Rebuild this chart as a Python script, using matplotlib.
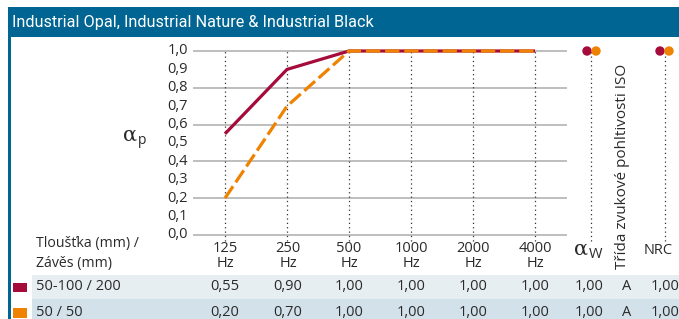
import matplotlib
matplotlib.use("Agg")
import matplotlib.pyplot as plt
from matplotlib.patches import Rectangle, Ellipse

# ---- data ----
freqs = ["125", "250", "500", "1000", "2000", "4000"]
series_labels = ["50-100 / 200", "50 / 50"]
alpha_red = [0.55, 0.90, 1.00, 1.00, 1.00, 1.00]
alpha_orange = [0.20, 0.70, 1.00, 1.00, 1.00, 1.00]
alpha_w = ["1,00", "1,00"]
iso_class = ["A", "A"]
nrc = ["1,00", "1,00"]
yticks = [0.0, 0.1, 0.2, 0.3, 0.4, 0.5, 0.6, 0.7, 0.8, 0.9, 1.0]
title = "Industrial Opal, Industrial Nature & Industrial Black"

RED = "#A50B3B"
ORANGE = "#EF8200"
BLUE = "#006592"
TXT = "#2a2a2a"
GRID = "#BEBEBE"

plt.rcParams['font.family'] = ['Open Sans', 'DejaVu Sans']

W, H = 679, 319
fig = plt.figure(figsize=(W / 100, H / 100), dpi=100)
fig.patch.set_facecolor("white")


def P(x, y):
    return (x / W, 1 - y / H)


def rect(x0, y0, x1, y1, color):
    fig.patches.append(Rectangle(P(x0, y1), (x1 - x0) / W, (y1 - y0) / H,
                                 transform=fig.transFigure, color=color,
                                 lw=0, zorder=0))


def txt(x, y, s, size=10.5, ha="center", va="center", color=TXT, **kw):
    return fig.text(*P(x, y), s, fontsize=size, ha=ha, va=va, color=color, **kw)


# title bar and left border
rect(8, 7, W, 37, BLUE)
rect(8, 7, 10.5, H, BLUE)
txt(12, 22, title, size=11.7, ha="left", color="white",
    family=["Roboto", "DejaVu Sans"])

# table rows
rect(32, 275, W, 299, "#E7EEF2")
rect(32, 299, W, H, "#D3E2EA")
rect(13, 283, 27, 292, RED)
rect(13, 308, 27, 318, ORANGE)

# chart axes: x from 194 to 566 px, y from 51 to 235 px
ax = fig.add_axes([194 / W, 1 - 235 / H, (566 - 194) / W, (235 - 51) / H])
ax.set_xlim(-0.5, 5.5)
ax.set_ylim(0, 1)
ax.axis("off")
xs = list(range(len(freqs)))

for g in [0.0, 0.2, 0.4, 0.6, 0.8, 1.0]:
    ax.axhline(g, color=GRID, lw=1.4, zorder=1, clip_on=False)
for x in xs + [5.9, 7.1]:
    ax.plot([x, x], [-0.03, 1.0], color="#333333", lw=0.9,
            ls=(0, (1, 2.5)), zorder=1, clip_on=False)

ax.plot(xs, alpha_red, color=RED, lw=2.3, zorder=3, clip_on=False,
        solid_capstyle="butt")
ax.plot(xs, alpha_orange, color=ORANGE, lw=2.3, zorder=4, clip_on=False,
        dashes=(4.5, 1.5), dash_capstyle="butt")

for cx, col in [(587, RED), (596, ORANGE), (660, RED), (669, ORANGE)]:
    fig.patches.append(Ellipse(P(cx, 51), 9.4 / W, 9.4 / H,
                               transform=fig.transFigure,
                               color=col, lw=0, zorder=5))

# y tick labels
for v in yticks:
    y = 235 - v * 184
    txt(188, y, f"{v:.1f}".replace(".", ","), size=10.5, ha="right")

# alpha_p
txt(137, 135, "α", size=15, ha="right", family=["DejaVu Serif"])
txt(137.5, 140, "p", size=10, ha="left")

# x labels
xpos = [225, 288, 349, 411, 473, 535]
for x, f in zip(xpos, freqs):
    txt(x, 256, f + "\nHz", size=10.5, linespacing=1.05,
        multialignment="center")

txt(36, 243, "Tloušťka (mm) /", size=10.2, ha="left")
txt(36, 263, "Závěs (mm)", size=10.2, ha="left")

txt(588, 249, "α", size=15, ha="right", family=["DejaVu Serif"])
txt(589, 254, "W", size=10.5, ha="left")
txt(658, 250, "NRC", size=10.5)
txt(622, 166, "Třída zvukové pohltivosti ISO", size=11, rotation=90)

# table values
rows_y = [287, 312]
for i, (lab, vals) in enumerate(zip(series_labels, [alpha_red, alpha_orange])):
    y = rows_y[i]
    txt(36, y, lab, size=10.5, ha="left")
    for x, v in zip(xpos, vals):
        txt(x, y, f"{v:.2f}".replace(".", ","), size=10.5)
    txt(589, y, alpha_w[i], size=10.5)
    txt(627, y, iso_class[i], size=10.5)
    txt(665, y, nrc[i], size=10.5)

fig.savefig("out.png", dpi=100)
